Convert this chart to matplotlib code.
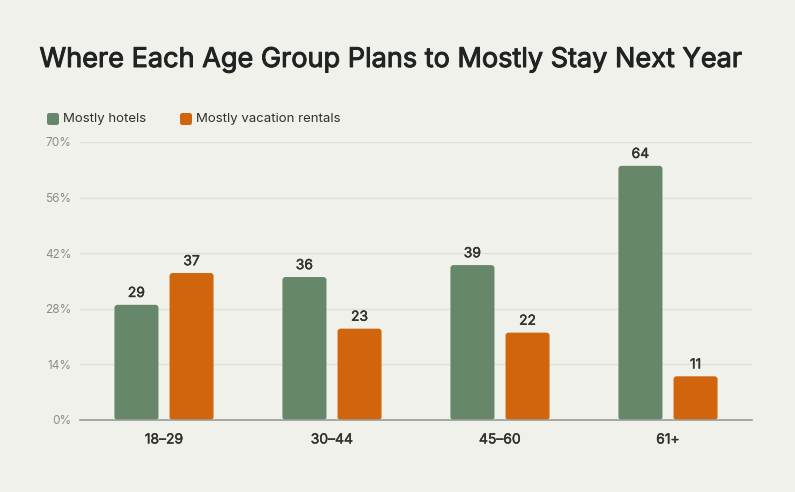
import matplotlib.pyplot as plt
import matplotlib.patheffects as pe
from matplotlib.patches import FancyBboxPatch
import numpy as np

# data
age_groups = ["18–29", "30–44", "45–60", "61+"]
hotels = [29, 36, 39, 64]
rentals = [37, 23, 22, 11]
y_ticks = [0, 14, 28, 42, 56, 70]

green = "#66876A"
orange = "#D0650D"
bg = "#F1F1EB"
dark = "#2E3330"

plt.rcParams['font.family'] = ['Inter', 'DejaVu Sans']


def medium(color, lw=0.5):
    # fake a medium weight with a thin outline
    return [pe.withStroke(linewidth=lw, foreground=color)]


fig = plt.figure(figsize=(7.95, 4.92), dpi=100, facecolor=bg)
ax = fig.add_axes([80 / 795, 1 - 420 / 492, 672 / 795, 278 / 492])
ax.set_facecolor(bg)

x = np.arange(len(age_groups))
w = 0.262
off = 0.164

# aspect for rounding corners (data units per pixel)
xu = 4 / 672
yu = 70 / 278

for vals, color, sign in [(hotels, green, -1), (rentals, orange, 1)]:
    bars = ax.bar(x + sign * off, vals, w, color=color, alpha=0)
    for b, v in zip(bars, vals):
        p = FancyBboxPatch((b.get_x(), 0), b.get_width(), v,
                           boxstyle="round,pad=0,rounding_size=%f" % (3 * xu),
                           mutation_aspect=yu / xu,
                           facecolor=color, edgecolor="none", zorder=3)
        ax.add_patch(p)
        ax.annotate(str(v), (b.get_x() + b.get_width() / 2, v),
                    xytext=(0, 3.5), textcoords="offset points",
                    ha="center", va="bottom", fontsize=10, color=dark,
                    path_effects=medium(dark, 0.3))

ax.set_xlim(-0.5, 3.5)
ax.set_ylim(0, 70)
ax.set_yticks(y_ticks)
ax.set_yticklabels([f"{t}%" for t in y_ticks])
ax.set_xticks(x)
ax.set_xticklabels(age_groups)

ax.tick_params(axis="y", length=0, labelsize=8.5, labelcolor="#8A8D89", pad=6)
ax.tick_params(axis="x", length=0, labelsize=10, labelcolor=dark, pad=9)
for lab in ax.get_xticklabels():
    lab.set_path_effects(medium(dark, 0.3))

ax.grid(axis="y", color="#E0E0DA", linewidth=1, zorder=0)
ax.set_axisbelow(True)
for s in ["top", "right", "left"]:
    ax.spines[s].set_visible(False)
ax.spines["bottom"].set_color("#9A9C98")
ax.spines["bottom"].set_linewidth(1.2)
ax.spines["bottom"].set_zorder(4)

# title
fig.text(0.492, 1 - 60 / 492, "Where Each Age Group Plans to Mostly Stay Next Year",
         ha="center", va="center", fontsize=19.5, color="#1F2321",
         path_effects=medium("#1F2321", 0.7))

# legend
for lx, label, color in [(47, "Mostly hotels", green), (180, "Mostly vacation rentals", orange)]:
    sq = FancyBboxPatch((lx / 795, 1 - 125 / 492), 12 / 795, 12 / 492,
                        boxstyle="round,pad=0,rounding_size=0.003",
                        mutation_aspect=795 / 492,
                        transform=fig.transFigure, facecolor=color, edgecolor="none")
    fig.patches.append(sq)
    fig.text((lx + 16) / 795, 1 - 119 / 492, label, ha="left", va="center",
             fontsize=9.5, color=dark)

fig.savefig("out.png", dpi=100, facecolor=bg)
